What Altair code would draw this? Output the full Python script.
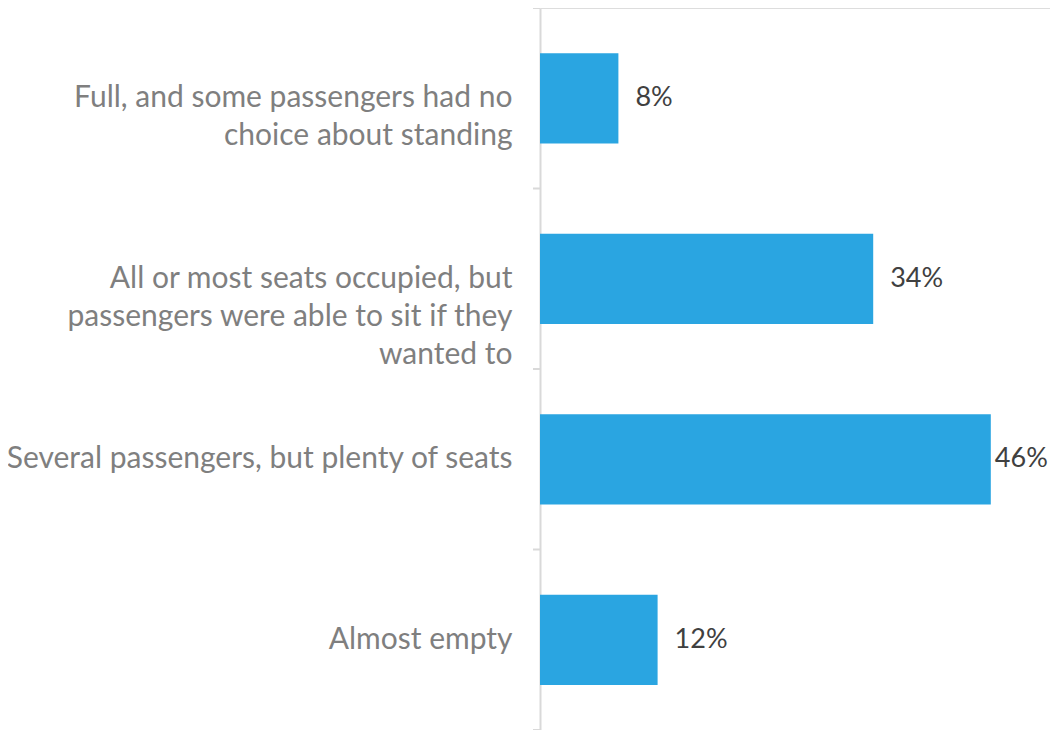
import altair as alt
import pandas as pd

categories = [
    "Full, and some passengers had no|choice about standing",
    "All or most seats occupied, but|passengers were able to sit if they|wanted to",
    "Several passengers, but plenty of seats",
    "Almost empty",
]
values = [8, 34, 46, 12]
value_labels = ["8%", "34%", "46%", "12%"]
boundaries = [0, 1, 2, 3, 4]

df = pd.DataFrame({"category": categories, "value": values, "label": value_labels})
ticks_df = pd.DataFrame({"b": boundaries})

FONT = "Lato"
BAR = "#2AA5E1"
AXIS_GRAY = "#D9D9D9"

y_scale = alt.Scale(paddingInner=0.5, paddingOuter=0.25)

y_enc = alt.Y(
    "category:N",
    sort=categories,
    scale=y_scale,
    axis=alt.Axis(
        title=None,
        ticks=False,
        tickSize=0,
        domain=True,
        domainColor=AXIS_GRAY,
        domainWidth=2,
        labelExpr="split(datum.label, '|')",
        labelFont=FONT,
        labelFontSize=30,
        labelColor="#7F7F7F",
        labelLineHeight=38,
        labelPadding=28,
        labelLimit=700,
        labelAlign="right",
        labelBaseline="middle",
        grid=False,
    ),
)

x_enc = alt.X(
    "value:Q",
    scale=alt.Scale(domain=[0, 52.04], nice=False, zero=True),
    axis=None,
)

y_plain = alt.Y("category:N", sort=categories)
x_plain = alt.X("value:Q")

bars = alt.Chart(df).mark_bar(color=BAR).encode(y=y_enc, x=x_enc)

texts = alt.Chart(df).transform_filter("datum.value < 40").mark_text(
    align="left", baseline="middle", dx=17, font=FONT, fontSize=27, color="#404040"
).encode(y=y_plain, x=x_plain, text="label:N")

texts_tight = alt.Chart(df).transform_filter("datum.value >= 40").mark_text(
    align="left", baseline="middle", dx=4, font=FONT, fontSize=27, color="#404040"
).encode(y=y_plain, x=x_plain, text="label:N")

ticks = alt.Chart(ticks_df).mark_rule(color=AXIS_GRAY, strokeWidth=2).encode(
    y=alt.Y("b:Q", scale=alt.Scale(domain=[0, 4], nice=False), axis=None),
    x=alt.value(-7),
    x2=alt.value(0),
)

chart = (
    alt.layer(alt.layer(bars, texts, texts_tight), ticks)
    .resolve_scale(y="independent")
    .properties(
        width=510,
        height=722,
        padding={"left": 532, "top": 0, "right": 0, "bottom": 0},
        autosize=alt.AutoSizeParams(type="none"),
    )
    .configure_view(strokeWidth=0, stroke="transparent")
    .configure(background="white")
)

chart.save("out.html", embed_options={"renderer": "svg", "actions": False})
